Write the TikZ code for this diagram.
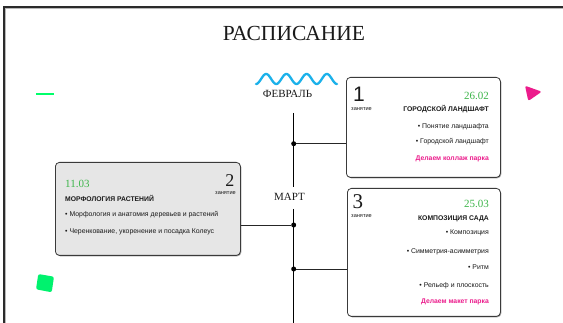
\documentclass[tikz,border=0pt]{standalone}
\usepackage{fontspec}
\setmainfont{Liberation Serif}
\setsansfont{Liberation Sans}
\usetikzlibrary{shadows}
\definecolor{framecol}{HTML}{2B2B2B}
\definecolor{frameshade}{HTML}{B8B8B8}
\definecolor{cardline}{HTML}{3A3A3A}
\definecolor{cardgrey}{HTML}{E6E6E6}
\definecolor{datecol}{HTML}{3DB54A}
\definecolor{pinkcol}{HTML}{EC1C8C}
\definecolor{wavecol}{HTML}{1BB1EA}
\definecolor{neongreen}{HTML}{00F26E}
\definecolor{dashgreen}{HTML}{00FF6A}
\definecolor{textcol}{HTML}{1A1A1A}
\tikzset{
  card/.style={draw=cardline, line width=0.8pt, rounded corners=4pt, fill=white,
    anchor=north west, inner sep=0pt,
    drop shadow={shadow xshift=0.9pt, shadow yshift=-0.9pt, opacity=0.55, fill=black!70}},
  dotnode/.style={circle, fill=black, inner sep=0pt, minimum size=5pt},
  link/.style={draw=black!85, line width=0.9pt},
  spine/.style={draw=black, line width=1.1pt},
  lbl/.style={inner sep=0pt, text=textcol},
  small/.style={lbl, font=\sffamily\fontsize{6.9}{7.5}\selectfont},
  smallbold/.style={lbl, font=\sffamily\bfseries\fontsize{6.8}{7.5}\selectfont},
  tiny/.style={lbl, font=\sffamily\fontsize{5.6}{6}\selectfont},
  datelbl/.style={lbl, text=datecol, font=\fontsize{11}{12}\selectfont},
  month/.style={lbl, font=\fontsize{11}{12}\selectfont},
  pinklbl/.style={lbl, text=pinkcol, font=\sffamily\bfseries\fontsize{6.8}{7.5}\selectfont},
}
\begin{document}
\begin{tikzpicture}[x=1pt,y=-1pt]
\useasboundingbox (0,0) rectangle (563,323);
\clip (0,0) rectangle (563,323);
\fill[white] (0,0) rectangle (563,323);
% frame
\draw[frameshade, line width=1pt] (5.4,8.4) rectangle (600,400);
\draw[framecol, line width=1.3pt] (4,7) rectangle (600,400);
% title
\node[lbl, anchor=base, font=\fontsize{21.5}{24}\selectfont] (title) at (294,40.8) {РАСПИСАНИЕ};
% decorations
\draw[dashgreen, line width=1.4pt] (36,94) -- (54,94);
\fill[neongreen, rounded corners=2pt] (38.3,274) -- (54,276.7) -- (51.7,292.3) -- (36,289.3) -- cycle;
\fill[pinkcol, rounded corners=2pt] (525,85.7) -- (541.7,91.7) -- (528.3,101) -- cycle;
\draw[wavecol, line width=2.3pt, line cap=round] plot[domain=0:81, samples=120] ({256+\x}, {79+5*cos(\x/20.25*360)});
% months
\node[month, anchor=base] (feb) at (287.5,97.6) {ФЕВРАЛЬ};
\node[month, anchor=base] (mar) at (289.5,200.6) {МАРТ};
% spine
\coordinate (stop) at (293.7,113);
\coordinate (gapa) at (293.7,187);
\coordinate (gapb) at (293.7,209);
\coordinate (sbot) at (293.7,330);
\draw[spine] (stop) -- (gapa);
\draw[spine] (gapb) -- (sbot);
% cards
\node[card, minimum width=154pt, minimum height=100pt] (b1) at (346,77) {};
\node[card, minimum width=185pt, minimum height=93pt, fill=cardgrey] (b2) at (55,162) {};
\node[card, minimum width=153pt, minimum height=128pt] (b3) at (347,188) {};
% dots
\node[dotnode] (d1) at (293.7,143.7) {};
\node[dotnode] (d2) at (293.7,225) {};
\node[dotnode] (d3) at (293.7,269) {};
\draw[link] (d1) -- (d1 -| b1.west);
\draw[link] (b2.east |- d2) -- (d2);
\draw[link] (d3) -- (d3 -| b3.west);
% card 1
\node[lbl, anchor=base west, font=\sffamily\fontsize{21}{22}\selectfont] (n1) at (353,102) {1};
\node[tiny, anchor=base west] (z1) at (351,110.5) {занятие};
\node[datelbl, anchor=base east] (t1) at (489,99.3) {26.02};
\node[smallbold, anchor=base east] (h1) at (489,111.3) {ГОРОДСКОЙ ЛАНДШАФТ};
\node[small, anchor=base east] (i11) at (489,129) {• Понятие ландшафта};
\node[small, anchor=base east] (i12) at (489,144) {• Городской ландшафт};
\node[pinklbl, anchor=base east] (p1) at (489,161) {Делаем коллаж парка};
% card 2
\node[lbl, anchor=base east, font=\fontsize{18}{20}\selectfont] (n2) at (234.5,186.7) {2};
\node[tiny, anchor=base east] (z2) at (236,194.5) {занятие};
\node[datelbl, anchor=base west] (t2) at (65,187.3) {11.03};
\node[smallbold, anchor=base west] (h2) at (65,201.3) {МОРФОЛОГИЯ РАСТЕНИЙ};
\node[small, anchor=base west] (i21) at (65,217) {• Морфология и анатомия деревьев и растений};
\node[small, anchor=base west] (i22) at (65,234) {• Черенкование, укоренение и посадка Колеус};
% card 3
\node[lbl, anchor=base west, font=\fontsize{21}{24}\selectfont] (n3) at (352.5,209) {3};
\node[tiny, anchor=base west] (z3) at (351,218) {занятие};
\node[datelbl, anchor=base east] (t3) at (489,208) {25.03};
\node[smallbold, anchor=base east] (h3) at (489,220.3) {КОМПОЗИЦИЯ САДА};
\node[small, anchor=base east] (i31) at (489,235) {• Композиция};
\node[small, anchor=base east] (i32) at (489,254) {• Симметрия-асимметрия};
\node[small, anchor=base east] (i33) at (489,270) {• Ритм};
\node[small, anchor=base east] (i34) at (489,288) {• Рельеф и плоскость};
\node[pinklbl, anchor=base east] (p3) at (489,304) {Делаем макет парка};
\end{tikzpicture}
\end{document}
